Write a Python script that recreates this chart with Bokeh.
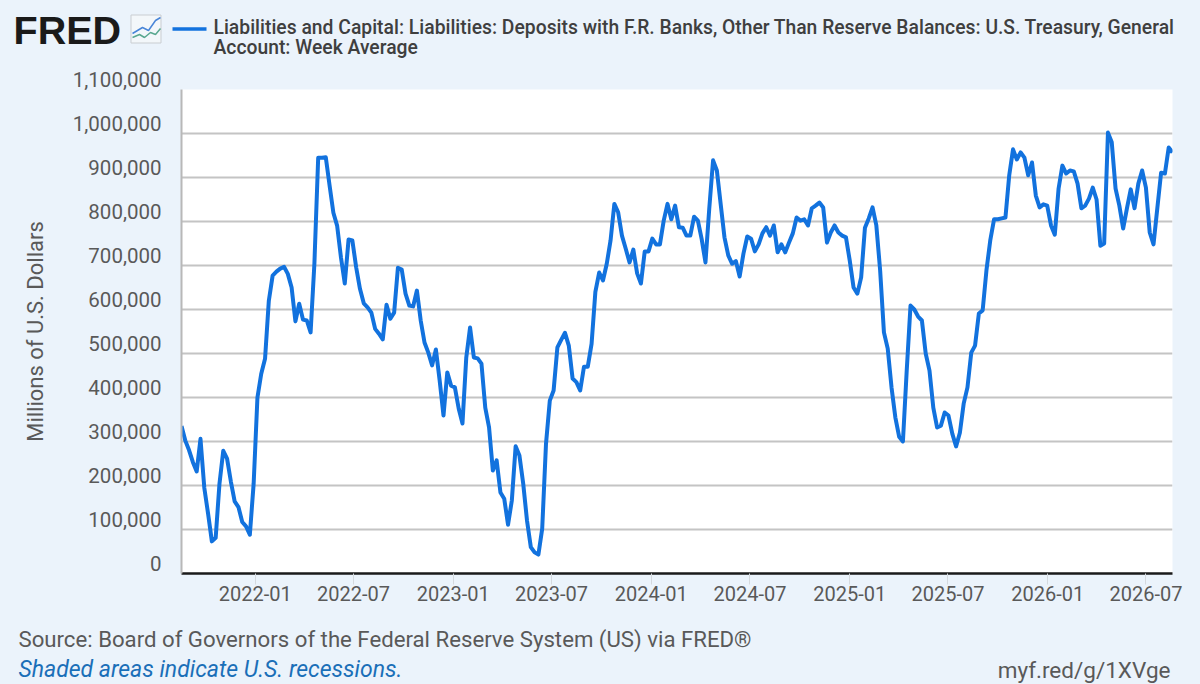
from datetime import datetime
import pandas as pd
from bokeh.core.properties import value
from bokeh.embed import file_html
from bokeh.layouts import column, row
from bokeh.resources import INLINE
from bokeh.plotting import figure
from bokeh.models import (Range1d, FixedTicker, DatetimeTickFormatter, ColumnDataSource)

series_name = ("Liabilities and Capital: Liabilities: Deposits with F.R. Banks, Other Than Reserve "
               "Balances: U.S. Treasury, General")
series_name2 = "Account: Week Average"
y_title = "Millions of U.S. Dollars"
source_text = "Source: Board of Governors of the Federal Reserve System (US) via FRED\u00ae"
shade_text = "Shaded areas indicate U.S. recessions."
link_text = "myf.red/g/1XVge"
first_week = "2021-08-18"
tick_labels = ["2022-01", "2022-07", "2023-01", "2023-07", "2024-01", "2024-07",
               "2025-01", "2025-07", "2026-01", "2026-07"]
y_ticks = [0, 100000, 200000, 300000, 400000, 500000, 600000, 700000, 800000, 900000, 1000000, 1100000]

# week-average values, thousands of millions of dollars
values_2021_22 = [335, 302, 280, 253, 232, 306, 195, 136, 73, 81, 204, 279, 261, 209, 164, 151, 117, 107, 88, 204,
                  400, 454, 488, 620, 677, 686, 693, 697, 681, 650, 573, 613, 577, 575, 548, 704, 945, 945, 946, 882,
                  820, 790, 718, 659, 759, 757, 696, 647, 614, 605, 593, 556, 545, 532, 611, 579, 593, 695, 691, 636,
                  609, 607, 643, 575, 525, 502, 473, 509, 438, 359, 457, 427, 423, 375, 341, 491, 559, 491, 489, 477]
values_2023 = [377, 332, 234, 257, 184, 170, 111, 166, 289, 268, 204, 120, 60, 48, 43, 102, 295, 393, 416, 514,
               531, 547, 518, 443, 435, 416, 470, 470, 522, 640]
values_2023_25 = [684, 666, 704, 757, 840, 821, 768, 738, 707, 736, 682, 659, 732, 732, 761, 748, 748, 802, 840, 805,
                  836, 787, 786, 768, 768, 811, 802, 760, 707, 830, 939, 916, 840, 764, 723, 704, 710, 675, 727, 766,
                  761, 732, 748, 773, 787, 768, 791, 730, 748, 730, 752, 773, 809, 802, 805, 791, 830, 836, 843, 832,
                  752, 775, 791, 775, 768, 764, 711, 650, 636]
values_2025 = [673, 786, 807, 832, 791, 689, 548, 511, 423, 355, 311, 300, 461, 609, 600, 584, 575, 500, 461, 377,
               332, 336, 366, 359, 318, 289, 320, 386, 423, 502, 518, 591, 598, 689, 757, 805, 805]
values_2025_26 = [807, 809, 905, 964, 941, 957, 945, 905, 934, 859, 832, 839, 836, 791, 770, 875, 927, 909, 916, 914,
                  886, 830, 836, 852, 877, 850, 745, 750, 1002, 980, 875, 836, 784, 830, 873, 830, 886, 916, 877, 775,
                  748, 830, 911, 909, 968, 957]

values = [v * 1000 for v in values_2021_22 + values_2023 + values_2023_25 + values_2025 + values_2025_26]
dates = pd.date_range(first_week, periods=len(values), freq="7D")

BG = "#ebf3fb"
GREY = "#595959"
LINE = "#1272de"
HEAD_H, FOOT_H, MID_H = 60, 60, 564
LEFT_W, MAIN_W = 170, 1030
TOP, BOTTOM = 29, 51      # margins of the main plot area inside the middle row


def blank(width, height, y_range):
    f = figure(width=width, height=height, output_backend="svg", toolbar_location=None,
               x_range=Range1d(0, width), y_range=y_range, x_axis_type=None, y_axis_type=None,
               background_fill_color=BG, border_fill_color=BG, frame_align=False,
               min_border_left=0, min_border_right=0, min_border_top=0, min_border_bottom=0)
    f.outline_line_color = None
    f.grid.visible = False
    return f


def put(f, text, x, y, size, color=GREY, font="Roboto", style="normal", align="left", angle=0):
    f.text([x], [y], text=[text], angle=angle, text_font=value(font), text_font_size=size, text_color=color,
           text_font_style=style, text_align=align, text_baseline="middle")


# header strip: logo and legend, in pixels from its top-left corner
head = blank(1200, HEAD_H, Range1d(HEAD_H, 0))
put(head, "FRED", 13, 29, "39.5px", color="#1a1a1a", font="Liberation Sans", style="bold")
head.quad(left=[130.5], right=[160.5], top=[14.5], bottom=[42.5], fill_color="#f3f7fa", line_color="#c9cdd1")
head.line([132, 142, 148, 155, 160], [33, 27, 30, 20, 17], line_color="#4a86d8", line_width=1.5)
head.line([132, 139, 144, 150, 155, 160], [37, 34, 37, 32, 34, 28], line_color="#5aa890", line_width=1.5)
head.line([172, 206], [28.5, 28.5], line_color=LINE, line_width=3.6)
put(head, series_name, 213, 27, "19.3px", color="#3f3f3f", font="Roboto Medium")
put(head, series_name2, 213, 47, "19.3px", color="#3f3f3f", font="Roboto Medium")

# main plot
src = ColumnDataSource(data=dict(date=dates, value=values))
p = figure(width=MAIN_W, height=MID_H, x_axis_type="datetime", output_backend="svg", toolbar_location=None,
           x_range=Range1d(dates[0], dates[-1]), y_range=Range1d(0, 1100000), frame_align=False,
           background_fill_color="white", border_fill_color=BG,
           min_border_left=11, min_border_right=28, min_border_top=TOP, min_border_bottom=BOTTOM)
p.outline_line_color = None
p.xgrid.visible = False
p.ygrid.grid_line_color = "#c4c4c4"
p.ygrid.grid_line_width = 2
p.ygrid.ticker = FixedTicker(ticks=y_ticks)
p.line("date", "value", source=src, line_color=LINE, line_width=4, line_join="round")

ya = p.yaxis[0]
ya.ticker = FixedTicker(ticks=[])
ya.major_label_standoff = 0
ya.major_tick_line_color = None
ya.minor_tick_line_color = None
ya.axis_line_color = "#b8b8b8"
ya.axis_line_width = 2

xa = p.xaxis[0]
xa.ticker = FixedTicker(ticks=[datetime.strptime(t, "%Y-%m").timestamp() * 1000 for t in tick_labels])
xa.formatter = DatetimeTickFormatter(days="%Y-%m", months="%Y-%m", years="%Y-%m", hours="%Y-%m", context=None)
xa.axis_line_color = "#1a1a1a"
xa.axis_line_width = 2.5
xa.major_tick_line_color = "#d4d9de"
xa.major_tick_line_width = 1
xa.major_tick_in = 0
xa.major_tick_out = 11
xa.minor_tick_line_color = None
xa.major_label_standoff = 1
xa.major_label_text_font = "Roboto"
xa.major_label_text_font_size = "20px"
xa.major_label_text_color = GREY

# left strip: y tick labels sit above their gridlines, on the same value scale as the plot
per_px = 1100000 / (MID_H - TOP - BOTTOM)
left = blank(LEFT_W, MID_H, Range1d(-BOTTOM * per_px, 1100000 + TOP * per_px))
left.text([161] * len(y_ticks), y_ticks, text=[f"{t:,}" for t in y_ticks], y_offset=-10,
          text_font=value("Roboto"), text_font_size="20.5px", text_color=GREY, text_align="right",
          text_baseline="middle")
left.text([35], [550000], text=[y_title], angle=1.5708, text_font=value("Roboto"), text_font_size="22px",
          text_color=GREY, text_align="center", text_baseline="middle")

# footer strip
foot = blank(1200, FOOT_H, Range1d(FOOT_H, 0))
put(foot, source_text, 18, 14, "22.2px")
put(foot, shade_text, 18, 45, "23px", color="#1a6fb8", style="italic")
put(foot, link_text, 1170, 45, "22.5px", align="right")

page = column(head, row(left, p, spacing=0), foot, spacing=0)
html = file_html(page, INLINE).replace("<head>", "<head><style>html,body{background:%s}</style>" % BG, 1)
open("out.html", "w").write(html)
